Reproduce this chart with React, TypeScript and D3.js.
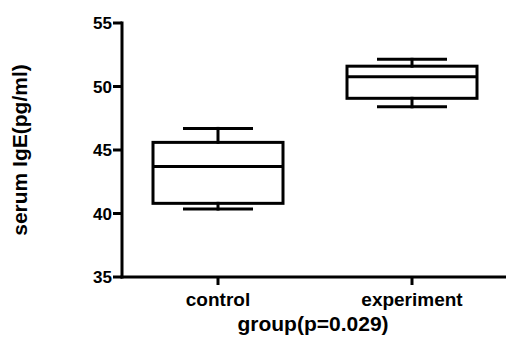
import React from "react";
import * as d3 from "d3";

const categories = ["control", "experiment"];
const whiskerMin = [40.35, 48.4];
const q1 = [40.8, 49.07];
const median = [43.7, 50.77];
const q3 = [45.6, 51.6];
const whiskerMax = [46.7, 52.14];
const yTicks = [35, 40, 45, 50, 55];

export default function App() {
  const W = 506, H = 337;
  const left = 122, top = 23, bottom = 277, right = 506;
  const y = d3.scaleLinear().domain([35, 55]).range([bottom, top]);
  const x = d3.scalePoint().domain(categories).range([218, 412]);
  const boxW = 130, capW = 67;
  const font = "'Liberation Sans', Arial, sans-serif";
  const sw = 3;
  return (
    <svg width={W} height={H} style={{ position: "absolute", left: 0, top: 0, background: "#fff" }}>
      <g stroke="#000" strokeWidth={sw} fill="none" strokeLinecap="square">
        <line x1={left} x2={left} y1={y(55)} y2={bottom} />
        <line x1={left} x2={right} y1={bottom} y2={bottom} />
        {yTicks.map((t) => (
          <line key={t} x1={left - 9} x2={left} y1={y(t)} y2={y(t)} strokeLinecap="butt" />
        ))}
        {categories.map((c) => (
          <line key={c} x1={x(c)} x2={x(c)} y1={bottom} y2={bottom + 8} strokeLinecap="butt" />
        ))}
        {categories.map((c, i) => {
          const cx = x(c) as number;
          return (
            <g key={c}>
              <line x1={cx} x2={cx} y1={y(whiskerMax[i])} y2={y(q3[i])} />
              <line x1={cx} x2={cx} y1={y(q1[i])} y2={y(whiskerMin[i])} />
              <line x1={cx - capW / 2} x2={cx + capW / 2} y1={y(whiskerMax[i])} y2={y(whiskerMax[i])} />
              <line x1={cx - capW / 2} x2={cx + capW / 2} y1={y(whiskerMin[i])} y2={y(whiskerMin[i])} />
              <rect x={cx - boxW / 2} y={y(q3[i])} width={boxW} height={y(q1[i]) - y(q3[i])} strokeLinejoin="miter" />
              <line x1={cx - boxW / 2} x2={cx + boxW / 2} y1={y(median[i])} y2={y(median[i])} strokeLinecap="butt" />
            </g>
          );
        })}
      </g>
      <g fontFamily={font} fontWeight="bold" fill="#000">
        {yTicks.map((t) => (
          <text key={t} x={left - 10} y={y(t)} dy="0.36em" textAnchor="end" fontSize={17}>{t}</text>
        ))}
        {categories.map((c) => (
          <text key={c} x={x(c) as number} y={306} textAnchor="middle" fontSize={19}>{c}</text>
        ))}
        <text x={313} y={331} textAnchor="middle" fontSize={21}>group(p=0.029)</text>
        <text transform={`translate(27,150) rotate(-90)`} textAnchor="middle" fontSize={21}>serum IgE(pg/ml)</text>
      </g>
    </svg>
  );
}
